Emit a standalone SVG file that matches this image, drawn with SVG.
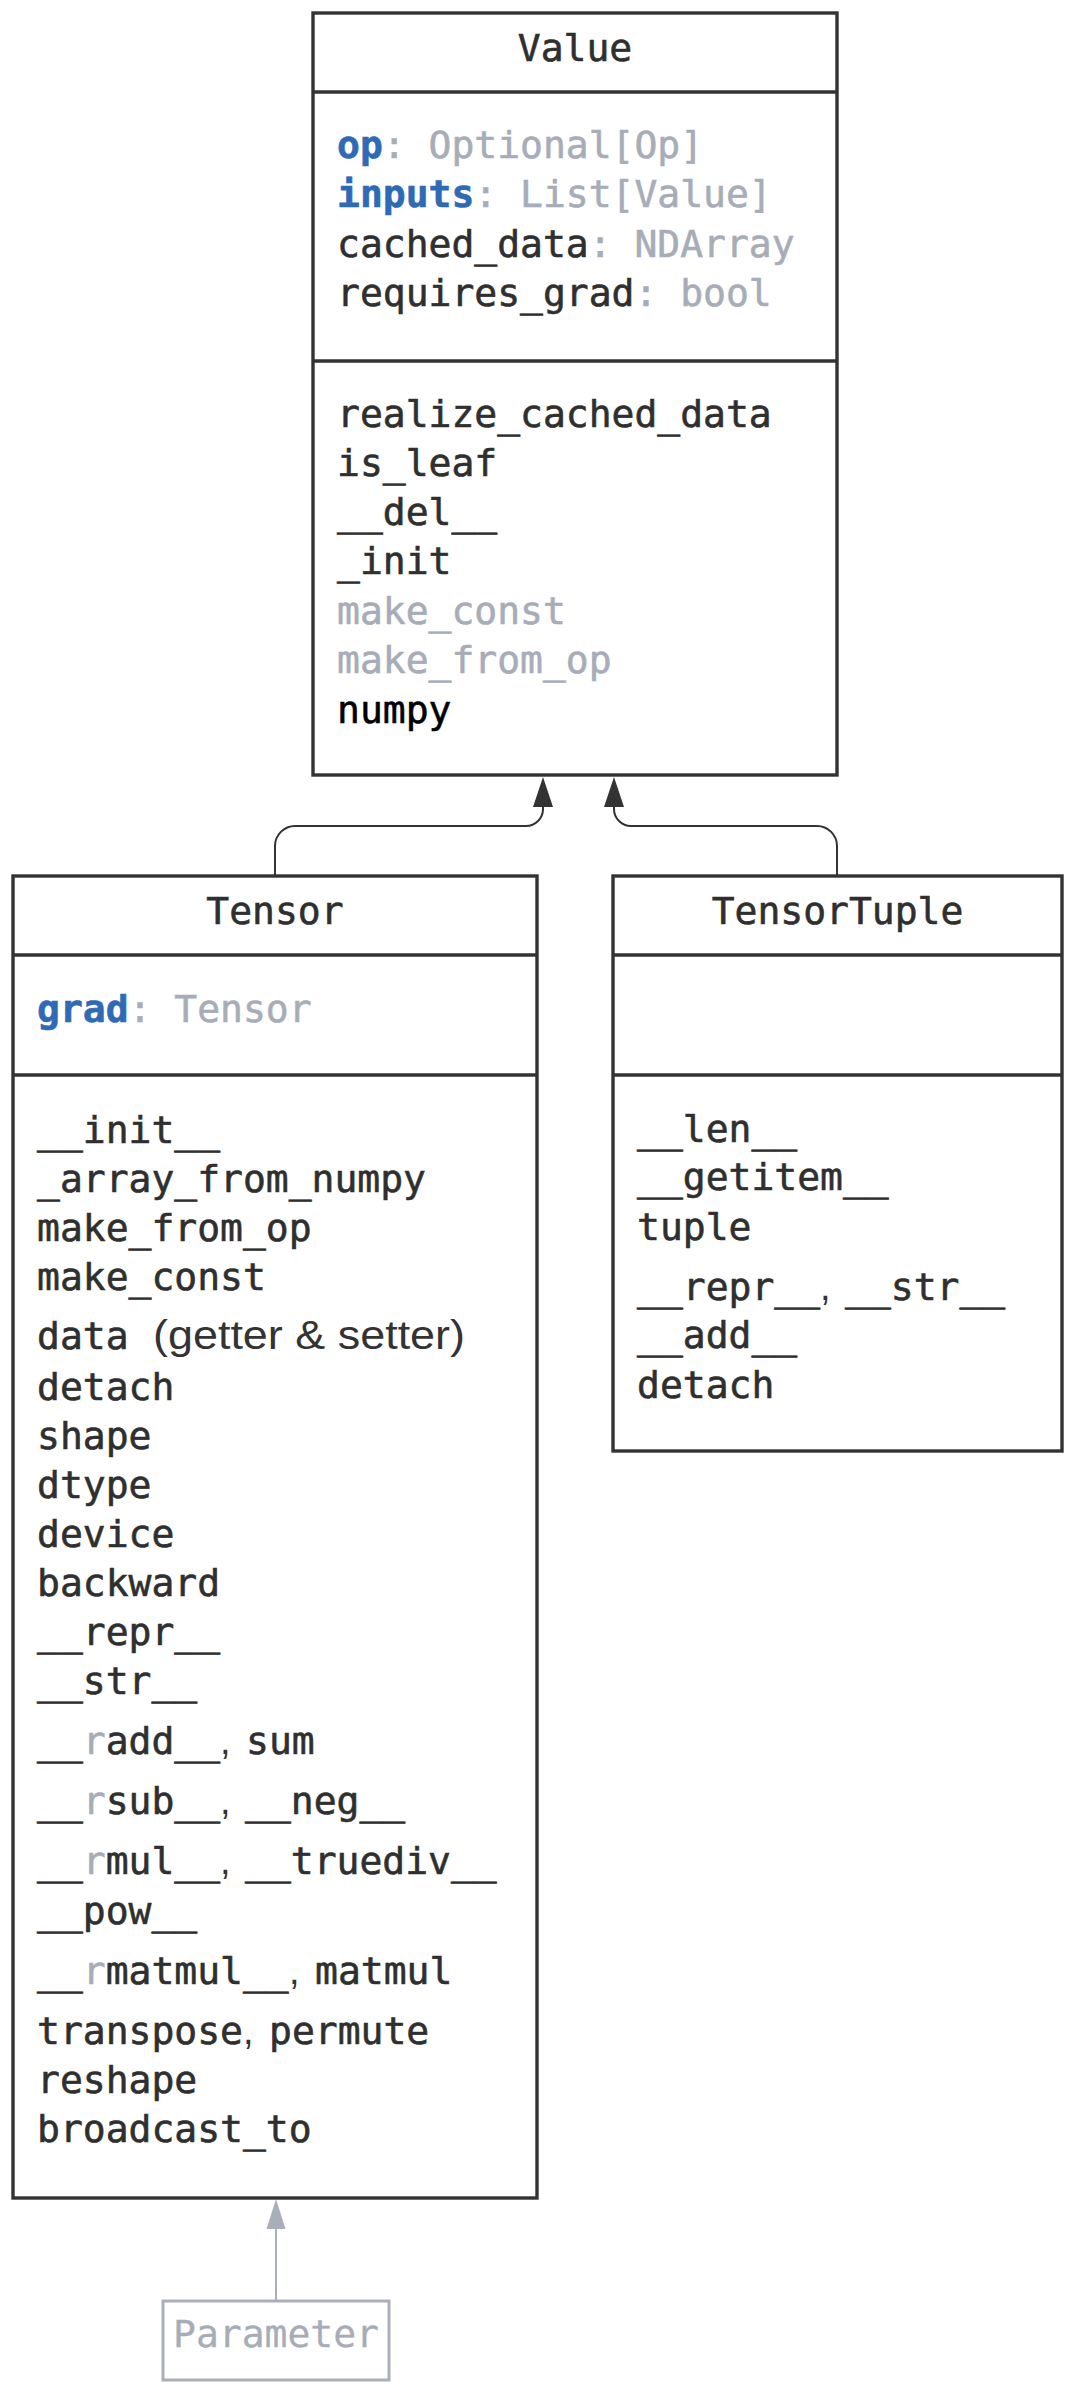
<svg xmlns="http://www.w3.org/2000/svg" width="1082" height="2395" viewBox="0 0 1082 2395">
<style>
.box{fill:#ffffff;stroke:#333333;stroke-width:3.4}
.div{stroke:#333333;stroke-width:3.4}
.m{font-family:"DejaVu Sans Mono","Liberation Mono",monospace;font-size:38px;fill:#2f2f2f;stroke:#2f2f2f;stroke-width:0.6}
.t{text-anchor:middle}
.b{font-weight:bold;fill:#2e6ab5;stroke:#2e6ab5}
.g{fill:#a7adb8;stroke:#a7adb8}
.k{fill:#000000;stroke:#000000}
.s{font-family:"Liberation Sans",Arial,sans-serif;font-size:38px;fill:#333333}
.gs{font-family:"Liberation Sans",Arial,sans-serif;font-size:40px;fill:#333333}
.conn{fill:none;stroke:#333333;stroke-width:2}
.pconn{fill:none;stroke:#a9afba;stroke-width:2}
</style>
<rect width="1082" height="2395" fill="#ffffff"/>

<g id="connectors">
<path class="conn" d="M275,876 V846 A20,20 0 0 1 295,826 H526 A17,17 0 0 0 543,809 V807"/>
<polygon points="543,777 533,807 553,807" fill="#333333"/>
<path class="conn" d="M837,876 V846 A20,20 0 0 0 817,826 H631 A17,17 0 0 1 614,809 V807"/>
<polygon points="614,777 604,807 624,807" fill="#333333"/>
<path class="pconn" d="M276,2301 V2229"/>
<polygon points="276,2199 266.5,2229 285.5,2229" fill="#a9afba"/>
</g>

<g id="value">
<rect class="box" x="313" y="13" width="524" height="762"/>
<line class="div" x1="313" y1="92" x2="837" y2="92"/>
<line class="div" x1="313" y1="361" x2="837" y2="361"/>
<text class="m t" x="575" y="61">Value</text>
<text class="m" x="337" y="158"><tspan class="b">op</tspan><tspan class="g">: Optional[Op]</tspan></text>
<text class="m" x="337" y="207"><tspan class="b">inputs</tspan><tspan class="g">: List[Value]</tspan></text>
<text class="m" x="337" y="257">cached_data<tspan class="g">: NDArray</tspan></text>
<text class="m" x="337" y="306">requires_grad<tspan class="g">: bool</tspan></text>
<text class="m" x="337" y="427">realize_cached_data</text>
<text class="m" x="337" y="476">is_leaf</text>
<text class="m" x="337" y="525">__del__</text>
<text class="m" x="337" y="574">_init</text>
<text class="m g" x="337" y="624">make_const</text>
<text class="m g" x="337" y="673">make_from_op</text>
<text class="m k" x="337" y="723">numpy</text>
</g>

<g id="tensor">
<rect class="box" x="13" y="876" width="524" height="1322"/>
<line class="div" x1="13" y1="955" x2="537" y2="955"/>
<line class="div" x1="13" y1="1075" x2="537" y2="1075"/>
<text class="m t" x="275" y="924">Tensor</text>
<text class="m" x="37" y="1022"><tspan class="b">grad</tspan><tspan class="g">: Tensor</tspan></text>
<text class="m" x="37" y="1143">__init__</text>
<text class="m" x="37" y="1192">_array_from_numpy</text>
<text class="m" x="37" y="1241">make_from_op</text>
<text class="m" x="37" y="1290">make_const</text>
<text class="m" x="37" y="1349">data</text>
<text class="gs" x="153" y="1349" textLength="312" lengthAdjust="spacingAndGlyphs">(getter &amp; setter)</text>
<text class="m" x="37" y="1400">detach</text>
<text class="m" x="37" y="1449">shape</text>
<text class="m" x="37" y="1498">dtype</text>
<text class="m" x="37" y="1547">device</text>
<text class="m" x="37" y="1596">backward</text>
<text class="m" x="37" y="1645">__repr__</text>
<text class="m" x="37" y="1694">__str__</text>
<text class="m" x="37" y="1754">__<tspan class="g">r</tspan>add__</text>
<text class="s" x="220" y="1754">,</text>
<text class="m" x="246" y="1754">sum</text>
<text class="m" x="37" y="1814">__<tspan class="g">r</tspan>sub__</text>
<text class="s" x="220" y="1814">,</text>
<text class="m" x="245" y="1814">__neg__</text>
<text class="m" x="37" y="1874">__<tspan class="g">r</tspan>mul__</text>
<text class="s" x="220" y="1874">,</text>
<text class="m" x="245" y="1874">__truediv__</text>
<text class="m" x="37" y="1924">__pow__</text>
<text class="m" x="37" y="1984">__<tspan class="g">r</tspan>matmul__</text>
<text class="s" x="289" y="1984">,</text>
<text class="m" x="315" y="1984">matmul</text>
<text class="m" x="37" y="2044">transpose</text>
<text class="s" x="243" y="2044">,</text>
<text class="m" x="269" y="2044">permute</text>
<text class="m" x="37" y="2093">reshape</text>
<text class="m" x="37" y="2142">broadcast_to</text>
</g>

<g id="tensortuple">
<rect class="box" x="613" y="876" width="449" height="575"/>
<line class="div" x1="613" y1="955" x2="1062" y2="955"/>
<line class="div" x1="613" y1="1075" x2="1062" y2="1075"/>
<text class="m t" x="837.5" y="924">TensorTuple</text>
<text class="m" x="637" y="1142">__len__</text>
<text class="m" x="637" y="1190">__getitem__</text>
<text class="m" x="637" y="1240">tuple</text>
<text class="m" x="637" y="1300">__repr__</text>
<text class="s" x="820" y="1300">,</text>
<text class="m" x="845" y="1300">__str__</text>
<text class="m" x="637" y="1348">__add__</text>
<text class="m" x="637" y="1398">detach</text>
</g>

<g id="parameter">
<rect x="163" y="2301" width="226" height="79" fill="#ffffff" stroke="#a9afba" stroke-width="3"/>
<text class="m t g" x="276" y="2347" style="stroke-width:0.3">Parameter</text>
</g>
</svg>
